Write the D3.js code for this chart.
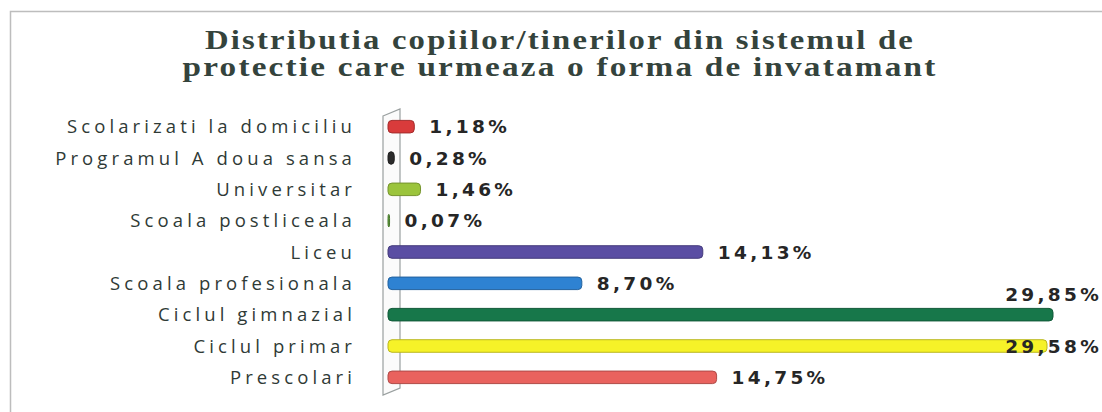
<!DOCTYPE html>
<html>
<head>
<meta charset="utf-8">
<script src="https://cdn.jsdelivr.net/npm/d3@7"></script>
<style>
  body { margin: 0; background: #fff; }
  svg { display: block; }
</style>
</head>
<body>
<div id="chart"></div>
<script>
// categories top to bottom, as in the picture
const categories = [
    'Scolarizati la domiciliu',
    'Programul A doua sansa',
    'Universitar',
    'Scoala postliceala',
    'Liceu',
    'Scoala profesionala',
    'Ciclul gimnazial',
    'Ciclul primar',
    'Prescolari'
];
const values = [1.18, 0.28, 1.46, 0.07, 14.13, 8.70, 29.85, 29.58, 14.75];
const colors = ['#d93b3b', '#2b2b2b', '#9bc43c', '#5f9e3a', '#5a4ea3', '#2e82d2', '#17774a', '#f6f228', '#e9625e'];
const titleLines = [
    'Distributia copiilor/tinerilor din sistemul de',
    'protectie care urmeaza o forma de invatamant'
];

const width = 1102;
const height = 412;

const svg = d3.select('#chart')
    .append('svg')
    .attr('width', width)
    .attr('height', height);

// frame of the chart area
svg.append('rect')
    .attr('x', 10.5)
    .attr('y', 11.5)
    .attr('width', width + 20)
    .attr('height', height + 20)
    .attr('fill', 'none')
    .attr('stroke', '#bdbdbd')
    .attr('stroke-width', 1.5);

// title, stretched out wide like the original
const titleWidths = [710, 755];
svg.append('g')
    .selectAll('text')
    .data(titleLines)
    .enter()
    .append('text')
    .attr('x', 560)
    .attr('y', (d, i) => 49 + i * 27)
    .attr('text-anchor', 'middle')
    .attr('font-family', '"Liberation Serif", "Times New Roman", serif')
    .attr('font-weight', 'bold')
    .attr('font-size', 27)
    .attr('letter-spacing', 1.8)
    .attr('textLength', (d, i) => titleWidths[i])
    .attr('lengthAdjust', 'spacingAndGlyphs')
    .attr('fill', '#34433c')
    .text(d => d);

const x = d3.scaleLinear()
    .domain([0, 29.85])
    .range([388, 1053]);

const y = d3.scaleBand()
    .domain(categories)
    .range([111, 393])
    .paddingInner(0.6)
    .paddingOuter(0.3);

// 3d wall behind the bars
svg.append('path')
    .attr('d', 'M383,116 L400,109 L400,388 L383,395 Z')
    .attr('fill', '#fbfbfb')
    .attr('stroke', '#9aa0a0')
    .attr('stroke-width', 1.2);

// category labels
svg.append('g')
    .selectAll('text')
    .data(categories)
    .enter()
    .append('text')
    .attr('x', 356)
    .attr('y', d => y(d) + y.bandwidth() / 2)
    .attr('dy', '0.36em')
    .attr('text-anchor', 'end')
    .attr('font-family', '"Open Sans", sans-serif')
    .attr('font-size', 18.5)
    .attr('letter-spacing', 4.1)
    .attr('fill', '#2f3a36')
    .text(d => d);

// bars
const rows = categories.map((c, i) => ({name: c, value: values[i], color: colors[i]}));

svg.append('g')
    .selectAll('rect')
    .data(rows)
    .enter()
    .append('rect')
    .attr('x', x(0))
    .attr('y', d => y(d.name))
    .attr('width', d => Math.max(x(d.value) - x(0), 1.5))
    .attr('height', y.bandwidth())
    .attr('rx', 4)
    .attr('fill', d => d.color)
    .attr('stroke', d => d3.color(d.color).darker(0.8))
    .attr('stroke-width', 1);

// value labels
const maxValue = d3.max(values);
const fmt = v => v.toFixed(2).replace('.', ',') + '%';

const labels = svg.append('g')
    .selectAll('text')
    .data(rows)
    .enter()
    .append('text')
    .attr('font-family', '"DejaVu Sans", Verdana, sans-serif')
    .attr('font-weight', 'bold')
    .attr('font-size', 18.5)
    .attr('letter-spacing', 3.3)
    .attr('fill', '#262626')
    .text(d => fmt(d.value));

labels.each(function (d) {
    const t = d3.select(this);
    const w = this.getComputedTextLength();
    let lx = x(d.value) + 15;
    let ly = y(d.name) + y.bandwidth() / 2;
    if (lx + w > width) lx = width - w;
    if (d.value === maxValue) ly -= 20;
    t.attr('x', lx).attr('y', ly).attr('dy', '0.36em');
});
</script>
</body>
</html>
